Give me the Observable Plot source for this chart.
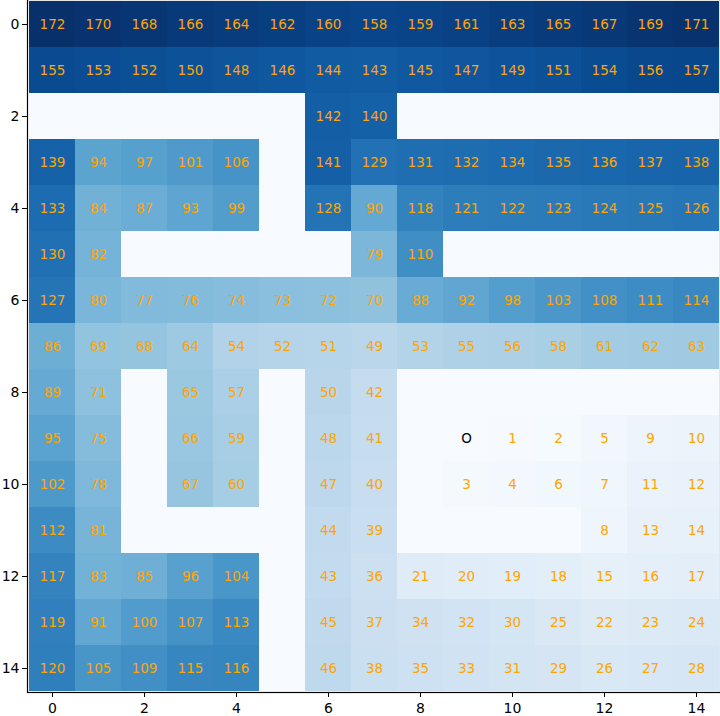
<!DOCTYPE html>
<html>
<head>
<meta charset="utf-8">
<script src="https://cdn.jsdelivr.net/npm/d3@7"></script>
<script src="https://cdn.jsdelivr.net/npm/@observablehq/plot@0.6"></script>
<style>
  html, body { margin: 0; padding: 0; background: #fff; }
  #chart svg { display: block; }
  #chart g[aria-label="x-axis tick label"] text,
  #chart g[aria-label="y-axis tick label"] text { font-size: 14px; }
  #chart g[aria-label="x-axis tick label"],
  #chart g[aria-label="y-axis tick label"] { font-size: 14px; }
</style>
</head>
<body>
<div id="chart"></div>
<script>
// Grid values (row by row); null = wall cell (drawn at the minimum colour, no label)
const row0  = [172,170,168,166,164,162,160,158,159,161,163,165,167,169,171];
const row1  = [155,153,152,150,148,146,144,143,145,147,149,151,154,156,157];
const row2  = [null,null,null,null,null,null,142,140,null,null,null,null,null,null,null];
const row3  = [139,94,97,101,106,null,141,129,131,132,134,135,136,137,138];
const row4  = [133,84,87,93,99,null,128,90,118,121,122,123,124,125,126];
const row5  = [130,82,null,null,null,null,null,79,110,null,null,null,null,null,null];
const row6  = [127,80,77,76,74,73,72,70,88,92,98,103,108,111,114];
const row7  = [86,69,68,64,54,52,51,49,53,55,56,58,61,62,63];
const row8  = [89,71,null,65,57,null,50,42,null,null,null,null,null,null,null];
const row9  = [95,75,null,66,59,null,48,41,null,0,1,2,5,9,10];
const row10 = [102,78,null,67,60,null,47,40,null,3,4,6,7,11,12];
const row11 = [112,81,null,null,null,null,44,39,null,null,null,null,8,13,14];
const row12 = [117,83,85,96,104,null,43,36,21,20,19,18,15,16,17];
const row13 = [119,91,100,107,113,null,45,37,34,32,30,25,22,23,24];
const row14 = [120,105,109,115,116,null,46,38,35,33,31,29,26,27,28];
const grid = [row0,row1,row2,row3,row4,row5,row6,row7,row8,row9,row10,row11,row12,row13,row14];

const startCell = {row: 9, col: 9, label: "O"};
const tickValues = [0, 2, 4, 6, 8, 10, 12, 14];
const indices = d3.range(15);

const cells = [];
grid.forEach((r, i) => r.forEach((v, j) => {
  const isStart = i === startCell.row && j === startCell.col;
  cells.push({
    row: i, col: j, v,
    label: isStart ? startCell.label : (v == null ? "" : String(v)),
    start: isStart
  });
}));

const chart = Plot.plot({
  width: 720,
  height: 716,
  marginLeft: 27,
  marginRight: 0,
  marginTop: -1,
  marginBottom: 24,
  style: {fontFamily: "DejaVu Sans", fontSize: "14px", color: "black", background: "white", overflow: "visible"},
  x: {type: "band", domain: indices, padding: 0, axis: null},
  y: {type: "band", domain: indices, padding: 0, axis: null},
  color: {type: "linear", scheme: "blues", domain: [0, 172]},
  marks: [
    Plot.cell(cells, {x: "col", y: "row", fill: d => d.v ?? 0, inset: 0}),
    Plot.text(cells.filter(d => d.label !== "" && !d.start), {
      x: "col", y: "row", text: "label", fill: "orange", fontSize: 13.5
    }),
    Plot.text(cells.filter(d => d.start), {
      x: "col", y: "row", text: "label", fill: "black", fontSize: 13.5
    }),
    Plot.frame({stroke: "black", strokeWidth: 1.2}),
    Plot.axisX({ticks: tickValues, tickSize: 5, tickPadding: 6, fontSize: 14, label: null, anchor: "bottom"}),
    Plot.axisY({ticks: tickValues, tickSize: 5, tickPadding: 3, fontSize: 14, label: null, anchor: "left"})
  ]
});
document.getElementById("chart").appendChild(chart);
</script>
</body>
</html>
